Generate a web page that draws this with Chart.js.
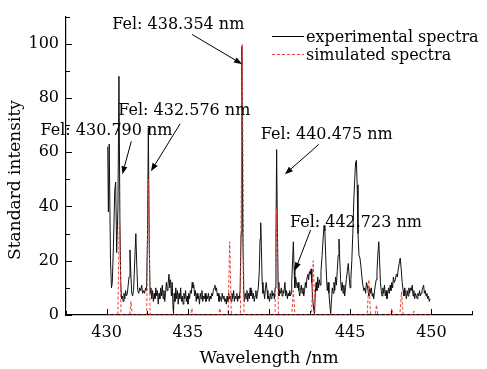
<!DOCTYPE html>
<html>
<head>
<meta charset="utf-8">
<script src="https://cdn.jsdelivr.net/npm/chart.js@4.4.1/dist/chart.umd.min.js"></script>
<style>
html,body{margin:0;padding:0;background:#fff;}
</style>
</head>
<body>
<canvas id="chart" width="487" height="369"></canvas>
<script>
// experimental spectrum, [wavelength nm, intensity]
const experimental = [
[430.07,62],[430.11,38],[430.16,63],[430.24,20],[430.30,10],[430.35,12],[430.42,25],[430.50,46],[430.56,49],[430.62,23],
[430.70,40],[430.76,88],[430.82,35],[430.87,12],[430.92,6],[430.97,7],[431.02,5],[431.07,8],[431.12,6],[431.17,9],
[431.22,7],[431.28,8],[431.33,11],[431.38,14],[431.44,24],[431.50,14],[431.55,8],[431.60,7],[431.66,9],[431.72,18],
[431.80,30],[431.86,18],[431.92,9],[431.98,8],[432.04,10],[432.10,9],[432.16,11],[432.22,8],[432.28,9],[432.34,8],
[432.40,10],[432.46,9],[432.52,30],[432.57,69],[432.63,25],[432.68,8],[432.73,10],[432.78,6],
[432.83,9],[432.88,5],[432.93,8],[432.98,6],[433.03,10],[433.08,7],[433.13,9],[433.18,4],[433.23,8],[433.28,6],
[433.33,10],[433.38,7],[433.43,11],[433.48,6],[433.53,9],[433.58,5],[433.63,8],[433.68,12],[433.73,9],[433.78,11],
[433.84,15],[433.89,10],[433.94,13],[433.99,7],[434.04,12],[434.09,3],[434.12,0.5],[434.16,8],[434.21,5],[434.26,10],
[434.31,6],[434.36,9],[434.41,4],[434.46,8],[434.51,6],[434.56,10],[434.61,5],[434.66,7],[434.71,4],[434.76,8],
[434.81,6],[434.86,9],[434.91,5],[434.96,7],[435.01,4],[435.06,8],[435.11,6],[435.16,9],[435.22,8],[435.27,12],
[435.32,10],[435.37,11],[435.42,7],[435.47,9],[435.52,5],[435.57,8],[435.62,6],[435.67,7],[435.72,4],[435.77,8],
[435.82,6],[435.87,9],[435.92,5],[435.97,7],[436.02,6],[436.07,8],[436.12,5],[436.17,7],[436.22,6],[436.27,8],
[436.32,5],[436.37,7],[436.42,6],[436.47,8],[436.52,7],[436.57,9],[436.62,10],[436.67,11],[436.72,9],[436.77,10],
[436.82,7],[436.87,8],[436.92,5],[436.97,7],[437.02,6],[437.07,5],[437.12,8],[437.17,6],[437.22,7],[437.27,5],
[437.32,6],[437.37,4],[437.42,7],[437.47,5],[437.52,8],[437.57,6],[437.62,7],[437.67,5],[437.72,8],[437.77,6],
[437.82,9],[437.87,5],[437.92,7],[437.97,6],[438.02,8],[438.07,5],[438.12,7],[438.17,6],[438.22,9],[438.28,30],
[438.33,99],[438.39,30],[438.44,9],[438.49,5],[438.54,8],[438.59,6],
[438.64,9],[438.69,5],[438.74,8],[438.79,6],[438.84,10],[438.89,7],[438.94,9],[438.99,6],[439.04,8],[439.09,5],
[439.14,7],[439.19,9],[439.24,6],[439.29,8],[439.34,10],[439.40,16],[439.45,28],[439.49,34],[439.53,25],[439.58,12],
[439.63,8],[439.68,9],[439.73,6],[439.78,10],[439.83,12],[439.88,9],[439.93,6],[439.98,7],[440.03,5],[440.08,8],
[440.13,6],[440.18,9],[440.23,7],[440.28,8],[440.33,6],[440.38,10],[440.43,30],[440.47,61],[440.51,35],[440.56,12],
[440.61,7],[440.66,9],[440.71,8],[440.76,10],[440.81,7],[440.86,9],[440.91,8],[440.98,12],[441.03,7],[441.08,9],
[441.13,6],[441.18,8],[441.23,7],[441.28,9],[441.32,7],[441.36,8],[441.40,12],[441.45,20],[441.50,27],[441.54,18],
[441.59,10],[441.64,14],[441.69,12],[441.74,10],[441.79,12],[441.84,9],[441.89,7],[441.94,9],[441.99,11],[442.04,8],
[442.09,10],[442.14,7],[442.19,9],[442.24,12],[442.29,10],[442.34,14],[442.39,15],[442.44,13],[442.49,16],[442.54,15],
[442.59,17],[442.64,12],[442.69,6],[442.75,2],[442.80,0.5],
[442.85,8],[442.90,12],[442.95,9],[443.00,14],[443.05,10],[443.10,13],[443.15,11],[443.20,16],[443.27,22],[443.33,28],
[443.39,33],[443.44,31],[443.49,22],[443.54,14],[443.59,9],[443.64,12],[443.69,8],[443.74,4],[443.80,0.5],[443.85,6],
[443.90,10],[443.95,8],[444.00,12],[444.05,9],[444.10,14],[444.15,11],[444.20,16],[444.26,22],[444.31,28],[444.36,20],
[444.41,13],[444.46,9],[444.51,12],[444.56,8],[444.61,11],[444.66,7],[444.71,10],[444.76,13],[444.82,16],[444.88,19],
[444.94,14],[444.99,10],[445.04,13],[445.10,20],[445.16,30],[445.22,42],[445.28,50],[445.33,56],[445.38,57],[445.43,48],
[445.48,30],[445.54,22],[445.60,21],[445.66,18],[445.72,14],[445.78,11],[445.84,9],[445.90,10],[445.95,8],[446.00,12],
[446.05,11],[446.10,9],[446.15,7],[446.20,10],[446.25,8],[446.30,10],[446.35,7],[446.40,8],[446.45,6],[446.50,9],
[446.55,11],[446.60,13],[446.65,16],[446.70,22],[446.76,27],[446.81,20],[446.86,12],[446.91,9],[446.96,7],[447.01,10],
[447.06,8],[447.11,11],[447.16,7],[447.21,9],[447.26,6],[447.31,8],[447.36,10],[447.41,8],[447.46,11],[447.51,9],
[447.56,12],[447.61,10],[447.66,14],[447.72,12],[447.78,13],[447.84,15],[447.90,14],[447.96,17],[448.02,19],[448.08,21],
[448.14,17],[448.20,12],[448.26,9],[448.31,7],[448.36,10],[448.41,8],[448.46,6],[448.51,9],[448.56,7],[448.61,10],
[448.66,8],[448.71,10],[448.76,9],[448.82,11],[448.87,7],[448.92,9],[448.97,6],[449.02,8],[449.07,7],[449.12,6],
[449.17,8],[449.22,7],[449.27,9],[449.32,7],[449.37,8],[449.42,9],[449.47,10],[449.52,11],[449.57,8],[449.62,9],
[449.67,7],[449.72,8],[449.77,6],[449.82,7],[449.87,5],[449.92,6],[449.96,6]
];

// simulated spectrum, [wavelength nm, intensity]
const simulated = [
[430.10,0],[430.69,0],[430.79,38],[430.89,0],[431.42,0],[431.50,5],[431.58,0],[432.47,0],[432.576,50],[432.68,0],
[435.17,0],[435.25,2.5],[435.33,0],[436.89,0],[436.97,2.5],[437.05,0],[437.48,0],[437.58,27],[437.68,0],
[438.24,0],[438.354,100],[438.46,0],[440.37,0],[440.475,39],[440.58,0],[441.40,0],[441.50,9],[441.60,0],
[442.62,0],[442.723,20],[442.83,0],[446.05,0],[446.15,13],[446.25,0],[446.54,0],[446.62,3.7],[446.70,0],
[447.48,0],[447.56,2.5],[447.64,0],[448.06,0],[448.16,8.5],[448.26,0],[448.85,0],[448.93,1.5],[449.01,0],[450.00,0]
];

const xTicks = [427.5,430,432.5,435,437.5,440,442.5,445,447.5,450,452.5];
const yTicks = [0,10,20,30,40,50,60,70,80,90,100,110];

const seriesNames = ["experimental spectra", "simulated spectra"];

// line annotations: text, text anchor (data), arrow tail -> head (data)
const notes = [
  {text:"Fel: 438.354 nm", tx:430.35, ty:105.6, ax:435.27, ay:103.4, hx:438.34, hy:92.5},
  {text:"Fel: 432.576 nm", tx:430.72, ty:73.8, ax:434.53, ay:70.5, hx:432.73, hy:53.0},
  {text:"Fel: 430.790 nm", tx:425.93, ty:66.2, ax:431.52, ay:64.0, hx:430.97, hy:51.9},
  {text:"Fel: 440.475 nm", tx:439.49, ty:64.7, ax:443.07, ay:62.9, hx:440.98, hy:51.9},
  {text:"Fel: 442.723 nm", tx:441.29, ty:32.5, ax:442.56, ay:31.3, hx:441.60, hy:16.4}
];

const FONT = "'DejaVu Serif', serif";
Chart.defaults.font.family = FONT;
Chart.defaults.color = "#000";

const RED = "#e8433a";

const extras = {
  id: "extras",
  afterDraw(chart) {
    const {ctx, chartArea: a, scales: {x, y}} = chart;
    ctx.save();
    // inward ticks
    ctx.strokeStyle = "#000";
    ctx.lineWidth = 1;
    xTicks.forEach(v => {
      const px = Math.round(x.getPixelForValue(v)) + 0.5;
      const len = v % 5 === 0 ? 6 : 4;
      ctx.beginPath(); ctx.moveTo(px, a.bottom); ctx.lineTo(px, a.bottom - len); ctx.stroke();
    });
    yTicks.forEach(v => {
      const py = Math.round(y.getPixelForValue(v)) + 0.5;
      const len = v % 20 === 0 ? 6 : 4;
      ctx.beginPath(); ctx.moveTo(a.left, py); ctx.lineTo(a.left + len, py); ctx.stroke();
    });

    // y title
    ctx.font = "17px " + FONT;
    ctx.fillStyle = "#000";
    ctx.textAlign = "center";
    ctx.textBaseline = "middle";
    ctx.translate(16, 180);
    ctx.rotate(-Math.PI / 2);
    ctx.fillText("Standard intensity", 0, 0);
    ctx.setTransform(1, 0, 0, 1, 0, 0);

    // annotations
    ctx.font = "16px " + FONT;
    ctx.textAlign = "left";
    ctx.textBaseline = "alphabetic";
    notes.forEach(n => {
      ctx.fillText(n.text, x.getPixelForValue(n.tx), y.getPixelForValue(n.ty));
      const x0 = x.getPixelForValue(n.ax), y0 = y.getPixelForValue(n.ay);
      const x1 = x.getPixelForValue(n.hx), y1 = y.getPixelForValue(n.hy);
      const ang = Math.atan2(y1 - y0, x1 - x0);
      const L = 8, W = 3;
      ctx.beginPath(); ctx.moveTo(x0, y0);
      ctx.lineTo(x1 - L * Math.cos(ang), y1 - L * Math.sin(ang)); ctx.stroke();
      ctx.beginPath();
      ctx.moveTo(x1, y1);
      ctx.lineTo(x1 - L * Math.cos(ang) + W * Math.sin(ang), y1 - L * Math.sin(ang) - W * Math.cos(ang));
      ctx.lineTo(x1 - L * Math.cos(ang) - W * Math.sin(ang), y1 - L * Math.sin(ang) + W * Math.cos(ang));
      ctx.closePath(); ctx.fill();
    });

    // legend
    const lx = 272, lw = 32;
    ctx.lineWidth = 1;
    ctx.strokeStyle = "#000";
    ctx.beginPath(); ctx.moveTo(lx, 36.5); ctx.lineTo(lx + lw, 36.5); ctx.stroke();
    ctx.strokeStyle = RED;
    ctx.setLineDash([3, 2]);
    ctx.beginPath(); ctx.moveTo(lx, 54.5); ctx.lineTo(lx + lw, 54.5); ctx.stroke();
    ctx.setLineDash([]);
    ctx.fillText(seriesNames[0], lx + lw + 2, 41.5);
    ctx.fillText(seriesNames[1], lx + lw + 2, 59.5);
    ctx.restore();
  }
};

new Chart(document.getElementById("chart"), {
  type: "line",
  data: {
    datasets: [
      {
        label: seriesNames[0],
        data: experimental.map(p => ({x: p[0], y: p[1]})),
        borderColor: "#111",
        borderWidth: 1,
        pointRadius: 0,
        tension: 0,
        order: 2
      },
      {
        label: seriesNames[1],
        data: simulated.map(p => ({x: p[0], y: p[1]})),
        borderColor: RED,
        borderWidth: 1,
        borderDash: [3, 2],
        pointRadius: 0,
        tension: 0,
        order: 1
      }
    ]
  },
  options: {
    responsive: false,
    animation: false,
    devicePixelRatio: 1,
    layout: {padding: {left: 0, right: 15, top: 14, bottom: 0}},
    plugins: {legend: {display: false}, tooltip: {enabled: false}},
    scales: {
      x: {
        type: "linear",
        min: 427.5,
        max: 452.5,
        afterBuildTicks: s => { s.ticks = xTicks.map(v => ({value: v})); },
        afterFit: s => { s.height = 54; },
        ticks: {
          autoSkip: false, maxRotation: 0, padding: 8,
          font: {size: 16}, color: "#000",
          callback: v => (v % 5 === 0 ? String(v) : "")
        },
        grid: {display: false, drawTicks: false},
        border: {display: true, color: "#000", width: 1.2},
        title: {display: true, text: "Wavelength /nm", font: {size: 17}, color: "#000", padding: {top: 0, bottom: 0}}
      },
      y: {
        min: 0,
        max: 110,
        afterBuildTicks: s => { s.ticks = yTicks.map(v => ({value: v})); },
        afterFit: s => { s.width = 66; },
        ticks: {
          padding: 7, font: {size: 16}, color: "#000",
          callback: v => (v % 20 === 0 ? String(v) : "")
        },
        grid: {display: false, drawTicks: false},
        border: {display: true, color: "#000", width: 1.2}
      }
    }
  },
  plugins: [extras]
});
</script>
</body>
</html>
